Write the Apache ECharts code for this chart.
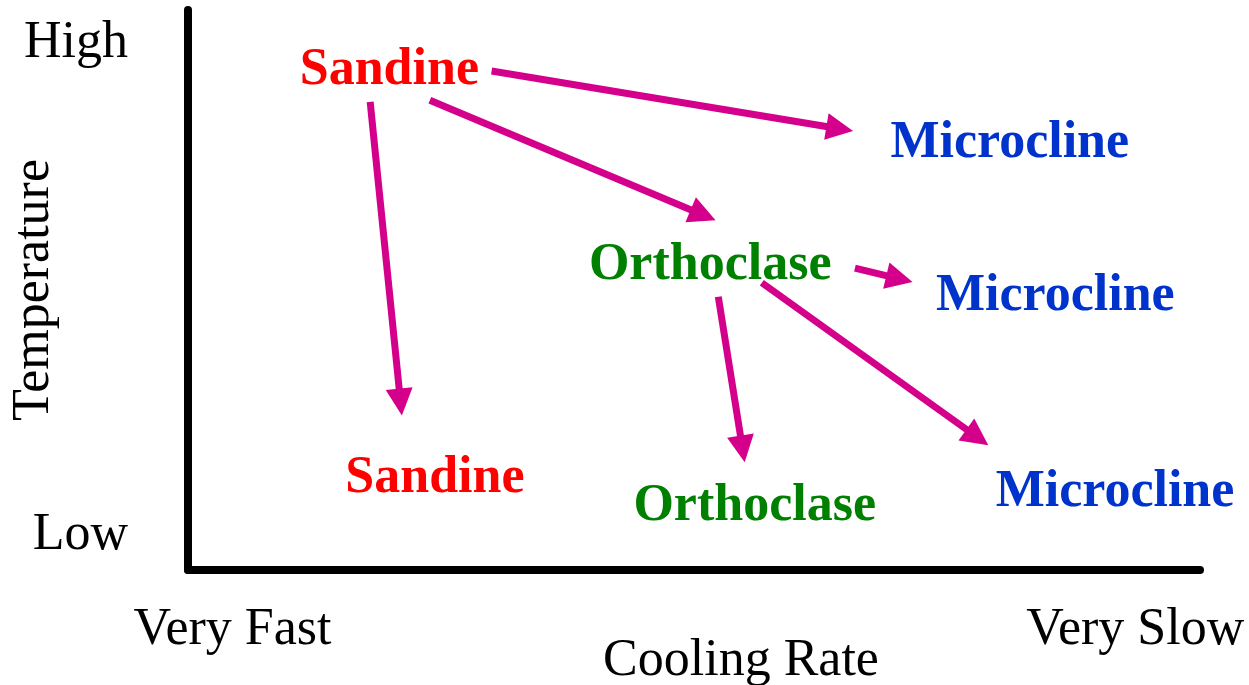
<!DOCTYPE html>
<html>
<head>
<meta charset="utf-8">
<script src="https://cdn.jsdelivr.net/npm/echarts@6/dist/echarts.min.js"></script>
<style>
  html, body { margin: 0; padding: 0; background: #fff; }
  #chart { width: 1249px; height: 685px; }
</style>
</head>
<body>
<div id="chart"></div>
<script>
  // feldspar phases, placed on a 0-100 cooling rate / temperature scale
  const nodeNames = ["Sandine", "Microcline", "Orthoclase", "Microcline", "Sandine", "Orthoclase", "Microcline"];
  const nodeX = [19.9, 81.2, 51.6, 85.7, 24.4, 56.0, 91.6];
  const nodeY = [89.1, 76.1, 54.3, 48.9, 16.4, 11.3, 13.9];

  // transitions: [fromX, fromY] -> [toX, toY]
  const arrowFrom = [[30.0, 89.1], [23.9, 83.9], [18.0, 83.6], [65.9, 53.9], [52.4, 48.8], [56.7, 51.3]];
  const arrowTo = [[64.4, 78.8], [50.9, 63.4], [21.0, 30.0], [70.3, 52.0], [54.8, 21.6], [78.0, 23.7]];

  const xTickValues = [4.4, 93.6];
  const xTickLabels = ["Very Fast", "Very Slow"];
  const yTickValues = [6.1, 94.1];
  const yTickLabels = ["Low", "High"];

  const mineralColors = { Sandine: "#ff0000", Orthoclase: "#008000", Microcline: "#0033cc" };
  const arrowColor = "#d4008c";
  const serif = "'Liberation Serif', 'Times New Roman', serif";

  const chart = echarts.init(document.getElementById("chart"));

  const option = {
    animation: false,
    grid: { left: 188, right: 49, top: 10, bottom: 115, containLabel: false, outerBoundsMode: "none" },
    xAxis: {
      type: "value",
      min: 0,
      max: 100,
      name: "Cooling Rate",
      nameLocation: "middle",
      nameGap: 65,
      nameMoveOverlap: false,
      nameTextStyle: { fontFamily: serif, fontSize: 52, color: "#000", padding: [0, 0, 0, 94] },
      axisLine: { lineStyle: { color: "#000", width: 8 } },
      axisTick: { show: false },
      splitLine: { show: false },
      axisLabel: {
        customValues: xTickValues,
        formatter: (v) => xTickLabels[xTickValues.indexOf(v)],
        fontFamily: serif,
        fontSize: 52,
        color: "#000",
        margin: 34,
      },
    },
    yAxis: {
      type: "value",
      min: 0,
      max: 100,
      name: "Temperature",
      nameLocation: "middle",
      nameGap: 128,
      nameMoveOverlap: false,
      nameTextStyle: { fontFamily: serif, fontSize: 52, color: "#000" },
      axisLine: { lineStyle: { color: "#000", width: 8 } },
      axisTick: { show: false },
      splitLine: { show: false },
      axisLabel: {
        customValues: yTickValues,
        formatter: (v) => yTickLabels[yTickValues.indexOf(v)],
        fontFamily: serif,
        fontSize: 52,
        color: "#000",
        margin: 60,
      },
    },
    series: [
      {
        type: "lines",
        coordinateSystem: "cartesian2d",
        symbol: ["none", "triangle"],
        symbolSize: 27,
        lineStyle: { color: arrowColor, width: 7, opacity: 1 },
        data: arrowFrom.map((p, i) => ({ coords: [p, arrowTo[i]] })),
        z: 2,
      },
      {
        type: "scatter",
        symbolSize: 0,
        itemStyle: { opacity: 1 },
        data: nodeNames.map((name, i) => ({
          name: name,
          value: [nodeX[i], nodeY[i]],
          label: { color: mineralColors[name] },
        })),
        label: {
          show: true,
          position: "inside",
          formatter: "{b}",
          fontFamily: serif,
          fontWeight: "bold",
          fontSize: 52,
          opacity: 1,
        },
        z: 3,
      },
    ],
  };

  chart.setOption(option);
</script>
</body>
</html>
